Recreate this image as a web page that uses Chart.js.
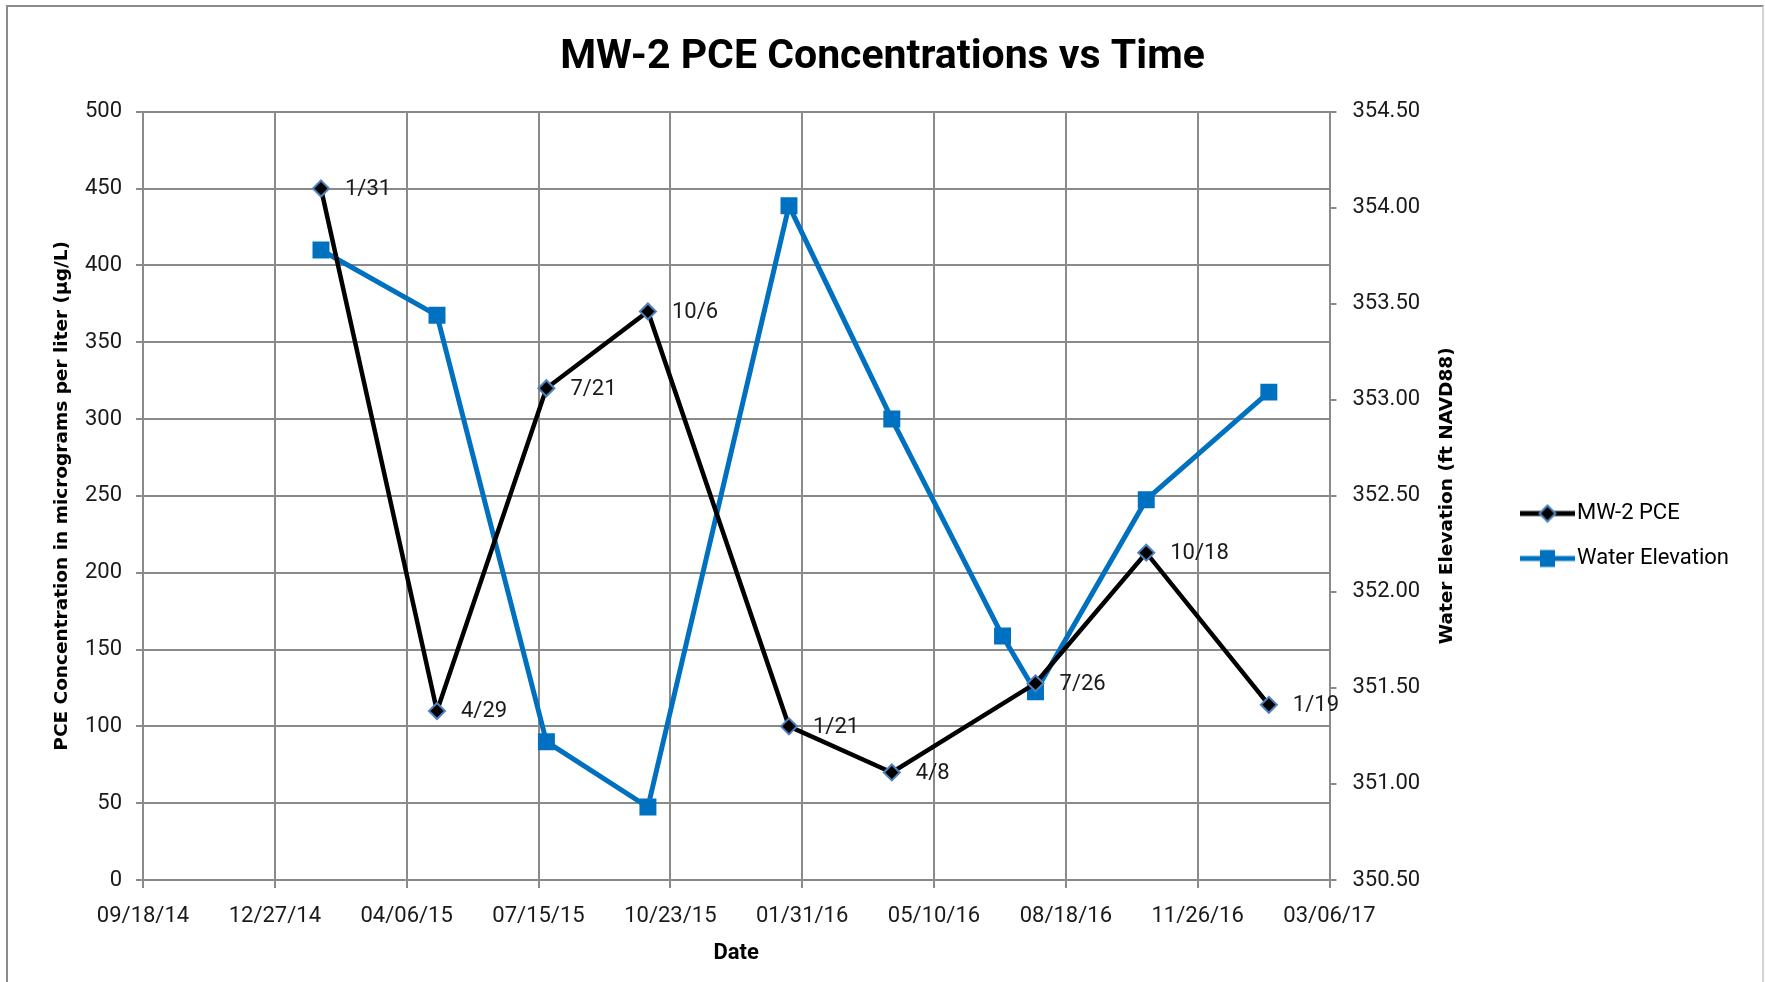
<!DOCTYPE html>
<html>
<head>
<meta charset="utf-8">
<title>MW-2 PCE Concentrations vs Time</title>
<script src="https://cdn.jsdelivr.net/npm/chart.js@4.4.1/dist/chart.umd.min.js"></script>
<style>
  html, body { margin: 0; padding: 0; background: #fff; overflow: hidden; }
  #wrap { position: relative; width: 1765px; height: 982px; }
  #frame { position: absolute; left: 6px; top: 5px; width: 1754px; height: 1000px; border: 2px solid #8c8c8c; border-right-color: #d4d4d4; pointer-events: none; }
</style>
</head>
<body>
<div id="wrap">
  <canvas id="pceChart" width="1765" height="982"></canvas>
  <div id="frame"></div>
</div>
<script>
// MW-2 PCE vs water elevation

const startDate = '2014-09-18'
const xTickLabels = ['09/18/14', '12/27/14', '04/06/15', '07/15/15', '10/23/15', '01/31/16', '05/10/16', '08/18/16', '11/26/16', '03/06/17']

const pceDates = ['2015-01-31', '2015-04-29', '2015-07-21', '2015-10-06', '2016-01-21', '2016-04-08', '2016-07-26', '2016-10-18', '2017-01-19']
const pceValues = [450, 110, 320, 370, 100, 70, 128, 213, 114]
const pceLabels = ['1/31', '4/29', '7/21', '10/6', '1/21', '4/8', '7/26', '10/18', '1/19']

const elevDates = ['2015-01-31', '2015-04-29', '2015-07-21', '2015-10-06', '2016-01-21', '2016-04-08', '2016-07-01', '2016-07-26', '2016-10-18', '2017-01-19']
const elevValues = [353.78, 353.44, 351.22, 350.88, 354.01, 352.9, 351.77, 351.48, 352.48, 353.04]

const gridColor = '#8a8a8a'
const textColor = '#1a1a1a'
const tickFont = { family: 'Roboto', size: 22 }
const sideTitleFont = { family: 'DejaVu Sans', size: 18.5, weight: 'bold' }

Chart.defaults.font.family = 'Roboto'

const dayOffset = function (date) {
  return (Date.parse(date) - Date.parse(startDate)) / 86400000
}

const toPoints = function (dates, values) {
  return dates.map((d, i) => ({ x: dayOffset(d), y: values[i] }))
}

// legend symbol: line with marker, like excel
const makeSymbol = function (color, lineWidth, drawMarker) {
  const c = document.createElement('canvas')
  c.width = 64
  c.height = 24
  const g = c.getContext('2d')
  g.strokeStyle = color
  g.lineWidth = lineWidth
  g.beginPath()
  g.moveTo(9, 12)
  g.lineTo(64, 12)
  g.stroke()
  drawMarker(g, 36.5, 12)
  return c
}

const legendSymbols = [
  makeSymbol('#000', 5, (g, x, y) => {
    g.beginPath()
    g.moveTo(x - 8, y)
    g.lineTo(x, y - 8)
    g.lineTo(x + 8, y)
    g.lineTo(x, y + 8)
    g.closePath()
    g.fillStyle = '#000'
    g.fill()
    g.lineWidth = 2
    g.strokeStyle = '#4f81bd'
    g.stroke()
  }),
  makeSymbol('#0070c0', 5, (g, x, y) => {
    g.fillStyle = '#0070c0'
    g.fillRect(x - 7.5, y - 8.5, 15, 17)
  }),
]

const pointLabelsPlugin = {
  id: 'pointLabels',
  afterDatasetsDraw(chart) {
    const ctx = chart.ctx
    const meta = chart.getDatasetMeta(0)
    ctx.save()
    ctx.font = '22px Roboto'
    ctx.fillStyle = textColor
    ctx.textAlign = 'left'
    ctx.textBaseline = 'middle'
    meta.data.forEach((pt, i) => {
      ctx.fillText(pceLabels[i], pt.x + 24, pt.y + 1)
    })
    ctx.restore()
  },
}

// right axis title reads bottom-to-top in the original
const rightTitlePlugin = {
  id: 'rightTitle',
  afterDraw(chart) {
    const ctx = chart.ctx
    const area = chart.chartArea
    ctx.save()
    ctx.translate(1447, (area.top + area.bottom) / 2)
    ctx.rotate(-Math.PI / 2)
    ctx.font = 'bold 18.5px "DejaVu Sans"'
    ctx.fillStyle = '#000'
    ctx.textAlign = 'center'
    ctx.textBaseline = 'middle'
    ctx.fillText('Water Elevation (ft NAVD88)', 0, 0)
    ctx.restore()
  },
}

// fixed legend width so the plot keeps its place
const legendWidthPlugin = {
  id: 'legendWidth',
  beforeLayout(chart) {
    const lg = chart.legend
    if (!lg || lg._fixedWidth) return
    const origFit = lg.fit
    lg.fit = function () {
      origFit.call(this)
      this.width = 268
    }
    lg._fixedWidth = true
  },
}

const ctx = document.getElementById('pceChart').getContext('2d')

const pceChart = new Chart(ctx, {
  type: 'line',
  data: {
    datasets: [
      {
        label: 'MW-2 PCE',
        data: toPoints(pceDates, pceValues),
        yAxisID: 'y',
        borderColor: '#000',
        borderWidth: 4.5,
        pointStyle: 'rectRot',
        pointRadius: 8,
        pointHoverRadius: 8,
        pointBackgroundColor: '#000',
        pointBorderColor: '#4f81bd',
        pointBorderWidth: 2,
        tension: 0,
      },
      {
        label: 'Water Elevation',
        data: toPoints(elevDates, elevValues),
        yAxisID: 'y1',
        borderColor: '#0070c0',
        borderWidth: 5,
        pointStyle: 'rect',
        pointRadius: 12,
        pointHoverRadius: 12,
        pointBackgroundColor: '#0070c0',
        pointBorderColor: '#0070c0',
        pointBorderWidth: 0,
        tension: 0,
      },
    ],
  },
  options: {
    responsive: false,
    animation: false,
    layout: { padding: 0 },
    scales: {
      x: {
        type: 'linear',
        min: 0,
        max: 900,
        ticks: {
          stepSize: 100,
          autoSkip: false,
          maxRotation: 0,
          padding: 15,
          color: textColor,
          font: tickFont,
          callback: (v) => xTickLabels[Math.round(v / 100)],
        },
        grid: { color: gridColor, lineWidth: 2, tickLength: 8 },
        border: { color: gridColor, width: 2 },
        title: {
          display: true,
          text: 'Date',
          color: '#000',
          font: { family: 'Roboto', size: 22, weight: 'bold' },
          padding: { top: 0, bottom: 15 },
        },
        afterFit: (scale) => {
          scale.height = 102
        },
      },
      y: {
        position: 'left',
        min: 0,
        max: 500,
        ticks: { stepSize: 50, padding: 14, color: textColor, font: tickFont },
        grid: { color: gridColor, lineWidth: 2, tickLength: 7 },
        border: { color: gridColor, width: 2 },
        title: {
          display: true,
          text: 'PCE Concentration in micrograms per liter (µg/L)',
          color: '#000',
          font: sideTitleFont,
          padding: { top: 51, bottom: 0 },
        },
        afterFit: (scale) => {
          scale.width = 143
        },
      },
      y1: {
        position: 'right',
        min: 350.5,
        max: 354.5,
        ticks: {
          stepSize: 0.5,
          padding: 16,
          color: textColor,
          font: tickFont,
          callback: (v) => v.toFixed(2),
        },
        grid: { drawOnChartArea: false, color: gridColor, lineWidth: 2, tickLength: 7 },
        border: { color: gridColor, width: 2 },
        afterFit: (scale) => {
          scale.width = 167.5
        },
      },
    },
    plugins: {
      title: {
        display: true,
        text: 'MW-2 PCE Concentrations vs Time',
        color: '#000',
        font: { family: 'Roboto', size: 41, weight: 'bold' },
        padding: { top: 33.5, bottom: 29 },
      },
      legend: {
        position: 'right',
        align: 'center',
        title: { display: true, text: '', font: { size: 10 }, padding: { top: 0, bottom: 78 } },
        labels: {
          usePointStyle: true,
          pointStyleWidth: 46,
          padding: 23,
          color: '#000',
          font: tickFont,
          generateLabels: (chart) =>
            chart.data.datasets.map((ds, i) => ({
              text: ds.label,
              pointStyle: legendSymbols[i],
              fontColor: '#000',
              fillStyle: 'transparent',
              strokeStyle: 'transparent',
              lineWidth: 0,
              hidden: false,
              datasetIndex: i,
            })),
        },
      },
      tooltip: { enabled: false },
    },
  },
  plugins: [legendWidthPlugin, pointLabelsPlugin, rightTitlePlugin],
})
</script>
</body>
</html>
